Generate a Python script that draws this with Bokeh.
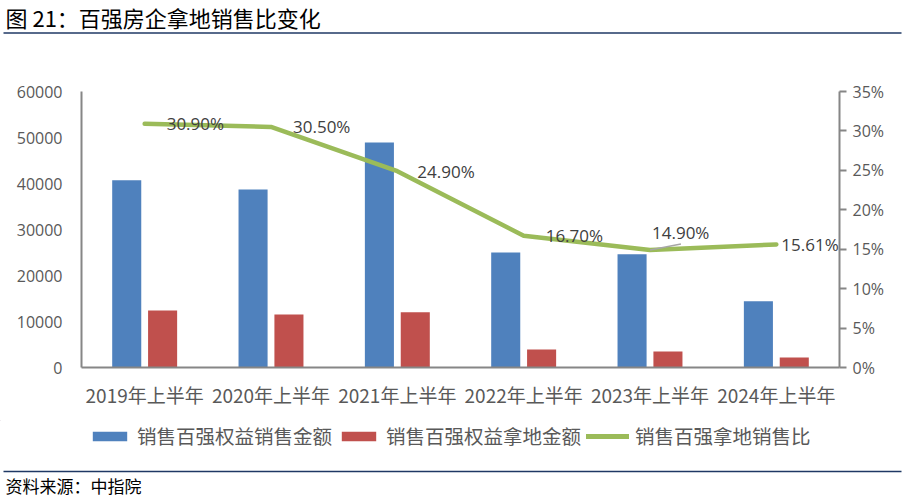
from bokeh.plotting import figure
from bokeh.layouts import column
from bokeh.models import (ColumnDataSource, Range1d, LinearAxis, FixedTicker, PrintfTickFormatter,
                          Legend, LegendItem, Label, LabelSet)
from bokeh.core.properties import value
from bokeh.embed import file_html
from bokeh.resources import INLINE

# ---- data ----
categories = ["2019年上半年", "2020年上半年", "2021年上半年", "2022年上半年", "2023年上半年", "2024年上半年"]
sales_amount = [40700, 38700, 48900, 25000, 24600, 14400]      # 销售百强权益销售金额
land_amount = [12400, 11500, 12000, 3900, 3500, 2200]           # 销售百强权益拿地金额
land_sales_ratio = [30.90, 30.50, 24.90, 16.70, 14.90, 15.61]  # 销售百强拿地销售比 (%)
left_ticks = [0, 10000, 20000, 30000, 40000, 50000, 60000]
right_ticks = [0, 5, 10, 15, 20, 25, 30, 35]
series_names = ["销售百强权益销售金额", "销售百强权益拿地金额", "销售百强拿地销售比"]
title_text = "图 21：百强房企拿地销售比变化"
source_text = "资料来源：中指院"

# ---- styles ----
BLUE = "#4F81BD"
RED = "#C0504D"
GREEN = "#9BBB59"
AXIS = "#868686"
TICKTXT = "#595959"
NAVY = "#1F3864"
CJK = "Noto Sans CJK SC"
NUM = "Open Sans"

W = 912
H_TOP, H_MAIN, H_BOT = 40, 380, 82
ML, MR, MT, MB = 81, 73, 51, 53

def bare(h):
    f = figure(width=W, height=h, output_backend="svg", toolbar_location=None,
               x_range=Range1d(0, W), y_range=Range1d(h, 0),
               x_axis_location=None, y_axis_location=None, min_border=0)
    f.outline_line_color = None
    f.grid.grid_line_color = None
    f.background_fill_color = "white"
    f.border_fill_color = "white"
    f.frame_align = False
    return f

# ---- top: title ----
top = bare(H_TOP)
top.add_layout(Label(x=5, y=16, text=title_text, text_font=CJK, text_font_size="22px",
                     text_color="black", text_baseline="middle", text_align="left"))
top.segment(x0=[3], y0=[32.5], x1=[901], y1=[32.5], line_color=NAVY, line_width=1.5)

# ---- main chart ----
idx = list(range(len(categories)))
off = 0.142
bw = 0.23

p = figure(width=W, height=H_MAIN, output_backend="svg", toolbar_location=None,
           x_range=Range1d(-0.5, len(categories) - 0.5), y_range=Range1d(0, 60000),
           min_border_left=ML, min_border_right=MR, min_border_top=MT, min_border_bottom=MB)
p.outline_line_color = None
p.grid.grid_line_color = None
p.background_fill_color = "white"
p.border_fill_color = "white"
p.frame_align = False
p.extra_y_ranges = {"pct": Range1d(0, 35)}

src = ColumnDataSource(dict(
    x=idx,
    xb=[i - off for i in idx],
    xr=[i + off for i in idx],
    sales=sales_amount,
    land=land_amount,
    ratio=land_sales_ratio,
    lbl=["{:.2f}%".format(v) for v in land_sales_ratio],
    xo=[22, 22, 20, 22, 2, 5],
    yo=[0, 0, 0, 0, 18, 0],
))

p.vbar(x="xb", top="sales", width=bw, source=src, fill_color=BLUE, line_color=None)
p.vbar(x="xr", top="land", width=bw, source=src, fill_color=RED, line_color=None)
p.line(x="x", y="ratio", source=src, y_range_name="pct", line_color=GREEN,
       line_width=4.5, line_cap="round", line_join="round")

i4 = 4
p.segment(x0=[idx[i4]], y0=[land_sales_ratio[i4]], x1=[idx[i4] + 0.245], y1=[land_sales_ratio[i4] + 0.75],
          y_range_name="pct", line_color="#A6A6A6", line_width=1.5)

p.add_layout(LabelSet(x="x", y="ratio", text="lbl", source=src, y_range_name="pct",
                      x_offset="xo", y_offset="yo", text_align="left", text_baseline="middle",
                      text_font=value(NUM), text_font_size="17px", text_color="#404040"))

xa = p.xaxis[0]
xa.ticker = FixedTicker(ticks=idx)
xa.major_label_overrides = {i: c for i, c in zip(idx, categories)}
xa.axis_line_color = AXIS
xa.axis_line_width = 2
xa.major_tick_line_color = None
xa.minor_tick_line_color = None
xa.major_label_standoff = 7
xa.major_label_text_font = CJK
xa.major_label_text_font_size = "19px"
xa.major_label_text_color = TICKTXT

ya = p.yaxis[0]
ya.ticker = FixedTicker(ticks=left_ticks)
ya.axis_line_color = AXIS
ya.axis_line_width = 2
ya.major_tick_line_color = None
ya.minor_tick_line_color = None
ya.major_label_standoff = 13
ya.major_label_text_font = NUM
ya.major_label_text_font_size = "16px"
ya.major_label_text_color = TICKTXT

ra = LinearAxis(y_range_name="pct", ticker=FixedTicker(ticks=right_ticks),
                formatter=PrintfTickFormatter(format="%d%%"))
ra.axis_line_color = AXIS
ra.axis_line_width = 2
ra.major_tick_line_color = AXIS
ra.major_tick_line_width = 2
ra.major_tick_in = 0
ra.major_tick_out = 7
ra.minor_tick_line_color = None
ra.major_label_standoff = 6
ra.major_label_text_font = NUM
ra.major_label_text_font_size = "16px"
ra.major_label_text_color = TICKTXT
p.add_layout(ra, "right")

# ---- bottom: legend, rule, source ----
bot = bare(H_BOT)
lb = bot.vbar(x=[-1000], bottom=[-501], top=[-500], width=1, fill_color=BLUE, line_color=None)
lr = bot.vbar(x=[-1000], bottom=[-501], top=[-500], width=1, fill_color=RED, line_color=None)
ll = bot.line(x=[-1000, -999], y=[-500, -500], line_color=GREEN, line_width=5, line_cap="round")
legend = Legend(items=[LegendItem(label=series_names[0], renderers=[lb]),
                       LegendItem(label=series_names[1], renderers=[lr]),
                       LegendItem(label=series_names[2], renderers=[ll])],
                location=(88, 52), orientation="horizontal",
                glyph_width=43, glyph_height=12, label_standoff=6, spacing=5,
                padding=0, margin=0, border_line_color=None, background_fill_alpha=0,
                label_text_font=CJK, label_text_font_size="19.5px", label_text_color=TICKTXT)
bot.add_layout(legend)
bot.segment(x0=[3], y0=[51], x1=[901], y1=[51], line_color=NAVY, line_width=1.5)
bot.add_layout(Label(x=5, y=65, text=source_text, text_font=CJK, text_font_size="17px",
                     text_color="black", text_baseline="middle", text_align="left"))

layout = column(top, p, bot, spacing=0)
open("out.html", "w").write(file_html(layout, INLINE))
